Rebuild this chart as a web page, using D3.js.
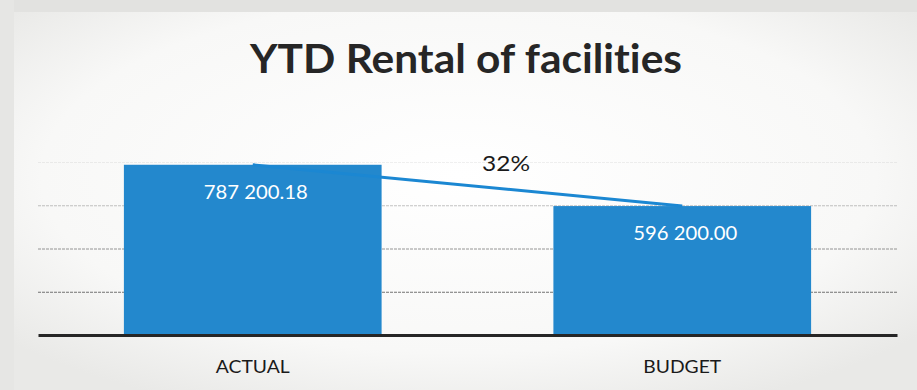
<!DOCTYPE html>
<html>
<head>
<meta charset="utf-8">
<script src="https://cdn.jsdelivr.net/npm/d3@7"></script>
<style>
  html, body { margin: 0; padding: 0; background: #f1f1ef; }
  svg { display: block; }
  text { font-family: Lato, "Open Sans", sans-serif; font-variant-ligatures: none; font-feature-settings: "liga" 0, "dlig" 0; }
</style>
</head>
<body>
<svg id="chart" width="917" height="390"></svg>
<script>
// Year-to-date rental income versus budget
const categories = ["ACTUAL", "BUDGET"];
const values = [787200.18, 596200.00];
const valueLabels = ["787 200.18", "596 200.00"];
const yTicks = [0, 200000, 400000, 600000, 800000];
const title = "YTD Rental of facilities";

const W = 917, H = 390;
const svg = d3.select("#chart");

// paper background: soft grey edges, lighter centre
const defs = svg.append("defs");
const bg = defs.append("radialGradient").attr("id", "paper")
  .attr("cx", "50%").attr("cy", "45%").attr("r", "65%");
bg.append("stop").attr("offset", "0%").attr("stop-color", "#ffffff");
bg.append("stop").attr("offset", "70%").attr("stop-color", "#f8f8f7");
bg.append("stop").attr("offset", "100%").attr("stop-color", "#e9e9e7");
svg.append("rect").attr("width", W).attr("height", H).attr("fill", "url(#paper)");
svg.append("rect").attr("width", W).attr("height", 12).attr("fill", "#e2e2e0");
svg.append("rect").attr("width", 14).attr("height", H).attr("fill", "#e6e6e4");

const plot = { left: 38, right: 897, top: 162, bottom: 335 };

const x = d3.scaleBand().domain(categories)
  .range([plot.left, plot.right]).paddingInner(0.4).paddingOuter(0.2);
const y = d3.scaleLinear().domain([0, 800000]).range([plot.bottom, plot.top]);

// horizontal gridlines
const gridOpacity = [0, 0.95, 0.7, 0.4, 0.1];
const grid = svg.append("g")
  .attr("transform", `translate(${plot.left},0)`)
  .call(d3.axisLeft(y).tickValues(yTicks).tickSize(-(plot.right - plot.left)).tickFormat(""));
grid.select(".domain").remove();
grid.selectAll(".tick line")
  .attr("stroke", "#6a6a6a")
  .attr("stroke-width", 1)
  .attr("stroke-dasharray", "3,1")
  .attr("opacity", (d, i) => gridOpacity[i]);

// bars
svg.append("g").selectAll("rect").data(values).join("rect")
  .attr("x", (d, i) => x(categories[i]))
  .attr("width", x.bandwidth())
  .attr("y", d => y(d))
  .attr("height", d => y(0) - y(d))
  .attr("fill", "#2388cd");

// axis baseline and category labels
const xAxis = svg.append("g")
  .attr("transform", `translate(0,${plot.bottom})`)
  .call(d3.axisBottom(x).tickSize(0).tickPadding(0));
xAxis.select(".domain").attr("stroke", "#262626").attr("stroke-width", 3);
xAxis.selectAll(".tick text")
  .attr("y", 38)
  .attr("dy", 0)
  .attr("font-size", 18)
  .attr("fill", "#1a1a1a")
  .attr("font-family", "Lato, sans-serif")
  .attr("textLength", d => d === "ACTUAL" ? 74 : 78)
  .attr("lengthAdjust", "spacingAndGlyphs");

// trend line joining the bar tops
const line = d3.line()
  .x((d, i) => x(categories[i]) + x.bandwidth() / 2)
  .y(d => y(d));
svg.append("path").datum(values)
  .attr("d", line)
  .attr("fill", "none")
  .attr("stroke", "#1b87d2")
  .attr("stroke-width", 3);

// value labels inside bars
svg.append("g").selectAll("text").data(values).join("text")
  .attr("x", (d, i) => x(categories[i]) + x.bandwidth() / 2 + 3)
  .attr("y", d => y(d) + 34)
  .attr("text-anchor", "middle")
  .attr("font-size", 19)
  .attr("fill", "#ffffff")
  .attr("textLength", 104)
  .attr("lengthAdjust", "spacingAndGlyphs")
  .text((d, i) => valueLabels[i]);

// variance of actual over budget
const variance = values[0] / values[1] - 1;
svg.append("text")
  .attr("x", 506)
  .attr("y", 171)
  .attr("text-anchor", "middle")
  .attr("font-size", 22)
  .attr("fill", "#1a1a1a")
  .attr("textLength", 48)
  .attr("lengthAdjust", "spacingAndGlyphs")
  .text(d3.format(".0%")(variance));

// title
svg.append("text")
  .attr("x", 466)
  .attr("y", 73)
  .attr("text-anchor", "middle")
  .attr("font-size", 40)
  .attr("font-weight", "bold")
  .attr("fill", "#262626")
  .attr("textLength", 432)
  .attr("lengthAdjust", "spacingAndGlyphs")
  .text(title);
</script>
</body>
</html>
